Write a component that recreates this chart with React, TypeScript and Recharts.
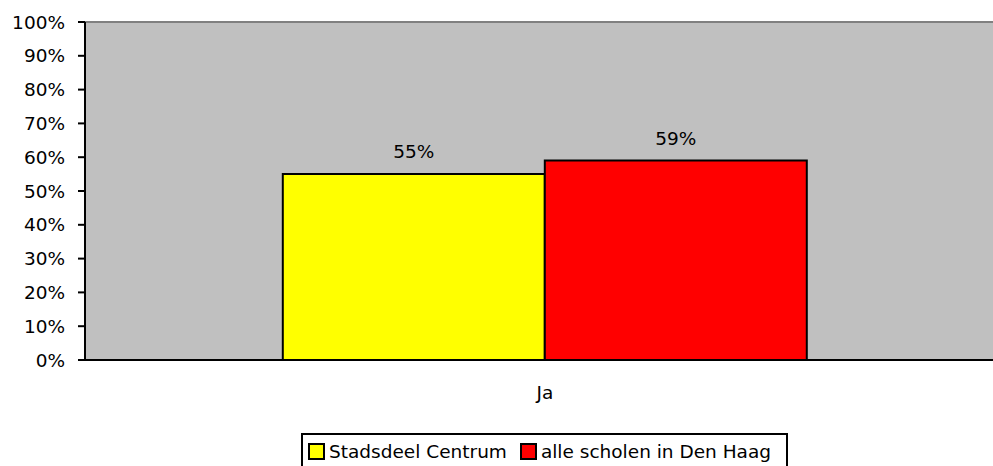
import { BarChart, Bar, XAxis, YAxis, CartesianGrid, Legend, LabelList, ReferenceLine } from "recharts";

const categories = ["Ja"];
const stadsdeelCentrum = [0.55];
const alleScholen = [0.59];
const yTicks = [0, 0.1, 0.2, 0.3, 0.4, 0.5, 0.6, 0.7, 0.8, 0.9, 1];
const seriesNames = ["Stadsdeel Centrum", "alle scholen in Den Haag"];

const data = categories.map((name, i) => ({
  name,
  centrum: stadsdeelCentrum[i],
  denHaag: alleScholen[i],
}));

const FONT = "DejaVu Sans, Verdana, sans-serif";
const FS = 18.5;
const pct = (v: number) => `${Math.round(v * 100)}%`;

const LegendBox = (props: any) => {
  const items = props.payload || [];
  return (
    <div style={{ height: 56, paddingTop: 23, boxSizing: "border-box" }}>
      <div
        style={{
          display: "inline-flex",
          alignItems: "center",
          border: "2px solid #000",
          height: 36,
          boxSizing: "border-box",
          padding: "0 15px 0 5px",
          fontFamily: FONT,
          fontSize: FS,
          color: "#000",
          background: "#fff",
          whiteSpace: "nowrap",
        }}
      >
        {items.map((it: any, i: number) => (
          <span key={i} style={{ display: "inline-flex", alignItems: "center", marginRight: i === 0 ? 13 : 0 }}>
            <span
              style={{
                width: 13,
                height: 13,
                background: it.color,
                border: "2px solid #000",
                marginRight: 4,
                display: "inline-block",
              }}
            />
            {it.value}
          </span>
        ))}
      </div>
    </div>
  );
};

export default function App() {
  return (
    <div style={{ position: "absolute", left: 0, top: 0, width: 993, height: 466, overflow: "hidden", background: "#fff" }}>
      <BarChart
        width={1005}
        height={466}
        data={data}
        margin={{ top: 22, right: 0, left: 0, bottom: 0 }}
        barCategoryGap="21.5%"
        barGap={0}
      >
        <CartesianGrid horizontal={false} vertical={false} fill="#c0c0c0" />
        <ReferenceLine y={1} stroke="#808080" strokeWidth={2} />
        <XAxis
          xAxisId="edge"
          type="number"
          domain={[0, 1]}
          ticks={[0.001]}
          axisLine={false}
          tickLine={{ stroke: "#000", strokeWidth: 2 }}
          tickSize={8}
          tickFormatter={() => ""}
          height={0}
        />
        <XAxis
          dataKey="name"
          axisLine={{ stroke: "#000", strokeWidth: 2 }}
          tickLine={false}
          tickSize={0}
          tickMargin={26}
          height={50}
          tick={{ fill: "#000", fontFamily: FONT, fontSize: FS }}
        />
        <YAxis
          width={85}
          domain={[0, 1]}
          ticks={yTicks}
          tickFormatter={pct}
          interval={0}
          axisLine={{ stroke: "#000", strokeWidth: 2 }}
          tickLine={{ stroke: "#000", strokeWidth: 2 }}
          tickSize={7}
          tickMargin={13}
          tick={{ fill: "#000", fontFamily: FONT, fontSize: FS }}
        />
        <Legend verticalAlign="bottom" content={<LegendBox />} wrapperStyle={{ left: 301, width: "auto" }} />
        <Bar dataKey="centrum" name={seriesNames[0]} fill="#ffff00" stroke="#000" strokeWidth={2} isAnimationActive={false}>
          <LabelList dataKey="centrum" position="top" offset={16} formatter={(v: any) => pct(Number(v))} style={{ fill: "#000", fontFamily: FONT, fontSize: FS }} />
        </Bar>
        <Bar dataKey="denHaag" name={seriesNames[1]} fill="#ff0000" stroke="#000" strokeWidth={2} isAnimationActive={false}>
          <LabelList dataKey="denHaag" position="top" offset={16} formatter={(v: any) => pct(Number(v))} style={{ fill: "#000", fontFamily: FONT, fontSize: FS }} />
        </Bar>
      </BarChart>
    </div>
  );
}
